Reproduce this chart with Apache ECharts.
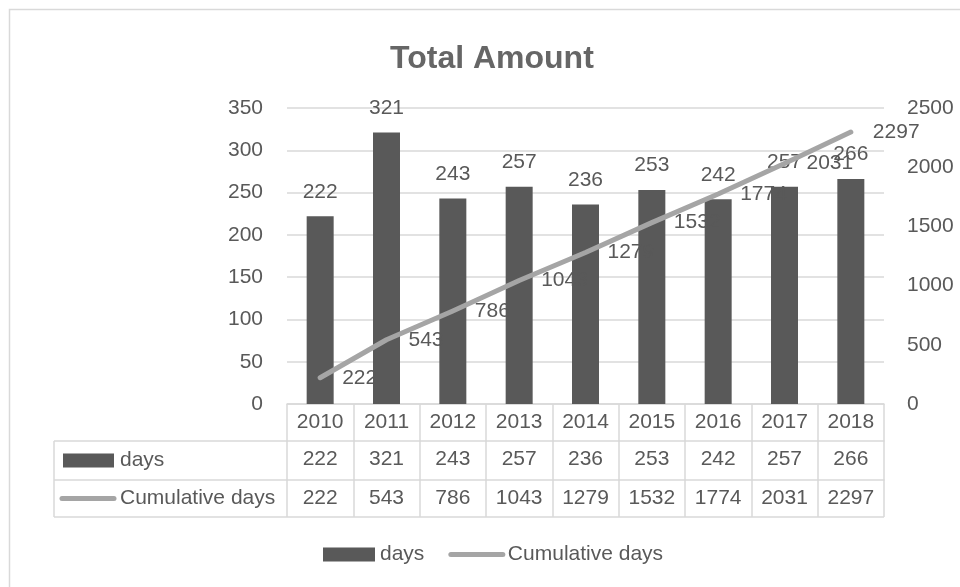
<!DOCTYPE html>
<html>
<head>
<meta charset="utf-8">
<script src="https://cdn.jsdelivr.net/npm/echarts@6/dist/echarts.min.js"></script>
<style>html,body{margin:0;padding:0;background:#fff}#c{width:960px;height:587px}</style>
</head>
<body>
<div id="c"></div>
<script>
const years = ['2010','2011','2012','2013','2014','2015','2016','2017','2018'];
const days = [222, 321, 243, 257, 236, 253, 242, 257, 266];
const cumulativeDays = [222, 543, 786, 1043, 1279, 1532, 1774, 2031, 2297];
const leftTicks = {min: 0, max: 350, interval: 50};
const rightTicks = {min: 0, max: 2500, interval: 500};

const FONT = 'Liberation Sans';
const TXT = '#595959';
const LINE = '#D9D9D9';
const G = {left: 287, right: 76, top: 108, bottom: 183};
const W = 960, H = 587;
const gx0 = G.left, gx1 = W - G.right, gy1 = H - G.bottom;
const rowA = gy1 + 37, rowB = rowA + 39, rowC = rowB + 37;
const tableLeft = 54;

const chart = echarts.init(document.getElementById('c'), null, {renderer: 'canvas'});
const tableAxis = (offset, tickLen, labels) => ({
  type: 'category', data: years, gridIndex: 0, position: 'bottom', offset: offset,
  axisLine: {show: true, onZero: false, lineStyle: {color: LINE, width: 1.5}},
  axisTick: {show: true, interval: 0, length: tickLen, alignWithLabel: false, lineStyle: {color: LINE, width: 1.5}},
  axisLabel: {show: true, interval: 0, margin: 8, fontSize: 21, color: TXT, fontFamily: FONT,
    formatter: (v, i) => String(labels[i])},
  splitLine: {show: false}
});
chart.setOption({
  animation: false,
  textStyle: {fontFamily: FONT},
  title: {text: 'Total Amount', left: 385, top: 38,
    textStyle: {fontSize: 32, fontWeight: 'bold', color: '#666', fontFamily: FONT}},
  grid: {left: G.left, right: G.right, top: G.top, bottom: G.bottom, containLabel: false},
  legend: {left: 318, top: 539, itemWidth: 52, itemHeight: 14, itemGap: 24,
    textStyle: {fontSize: 21, color: TXT, fontFamily: FONT},
    data: [
      {name: 'days', icon: 'rect'},
      {name: 'Cumulative days', itemStyle: {opacity: 0}, lineStyle: {width: 5, cap: 'round', color: '#A5A5A5'}}
    ]},
  xAxis: [
    tableAxis(0, 37, years),
    tableAxis(37, 39, days),
    tableAxis(76, 37, cumulativeDays)
  ],
  yAxis: [
    {type: 'value', min: leftTicks.min, max: leftTicks.max, interval: leftTicks.interval,
      axisLine: {show: false}, axisTick: {show: false},
      axisLabel: {fontSize: 21, color: TXT, margin: 24, fontFamily: FONT, formatter: v => String(v)},
      splitLine: {lineStyle: {color: LINE, width: 1.5}}},
    {type: 'value', min: rightTicks.min, max: rightTicks.max, interval: rightTicks.interval,
      axisLine: {show: false}, axisTick: {show: false},
      axisLabel: {fontSize: 21, color: TXT, margin: 23, fontFamily: FONT, formatter: v => String(v)},
      splitLine: {show: false}}
  ],
  series: [
    {name: 'days', type: 'bar', data: days, xAxisIndex: 0, yAxisIndex: 0, barWidth: 27,
      itemStyle: {color: '#595959'},
      label: {show: true, position: 'top', distance: 14, fontSize: 21, color: TXT, fontFamily: FONT}},
    {name: 'Cumulative days', type: 'line', data: cumulativeDays, xAxisIndex: 0, yAxisIndex: 1,
      symbol: 'circle', symbolSize: 0.01, showSymbol: true, z: 5,
      lineStyle: {color: '#A5A5A5', width: 5, cap: 'round', join: 'round'},
      itemStyle: {color: '#A5A5A5'},
      label: {show: true, position: 'right', distance: 22, fontSize: 21, color: TXT, fontFamily: FONT}}
  ],
  graphic: [
    {type: 'rect', shape: {x: 9.5, y: 9.5, width: 1000, height: 1000}, style: {fill: null, stroke: LINE, lineWidth: 1.5}, silent: true},
    {type: 'line', shape: {x1: tableLeft, y1: rowA, x2: gx0, y2: rowA}, style: {stroke: LINE, lineWidth: 1.5}},
    {type: 'line', shape: {x1: tableLeft, y1: rowB, x2: gx0, y2: rowB}, style: {stroke: LINE, lineWidth: 1.5}},
    {type: 'line', shape: {x1: tableLeft, y1: rowC, x2: gx1, y2: rowC}, style: {stroke: LINE, lineWidth: 1.5}},
    {type: 'line', shape: {x1: tableLeft, y1: rowA, x2: tableLeft, y2: rowC}, style: {stroke: LINE, lineWidth: 1.5}},
    {type: 'rect', shape: {x: 63, y: (rowA + rowB) / 2 - 7, width: 51, height: 14}, style: {fill: '#595959'}},
    {type: 'text', x: 120, y: (rowA + rowB) / 2, style: {text: 'days', fontSize: 21, fill: TXT, fontFamily: FONT, verticalAlign: 'middle'}},
    {type: 'line', shape: {x1: 62, y1: (rowB + rowC) / 2, x2: 114, y2: (rowB + rowC) / 2}, style: {stroke: '#A5A5A5', lineWidth: 5, lineCap: 'round'}},
    {type: 'text', x: 120, y: (rowB + rowC) / 2, style: {text: 'Cumulative days', fontSize: 21, fill: TXT, fontFamily: FONT, verticalAlign: 'middle'}}
  ]
});
</script>
</body>
</html>
